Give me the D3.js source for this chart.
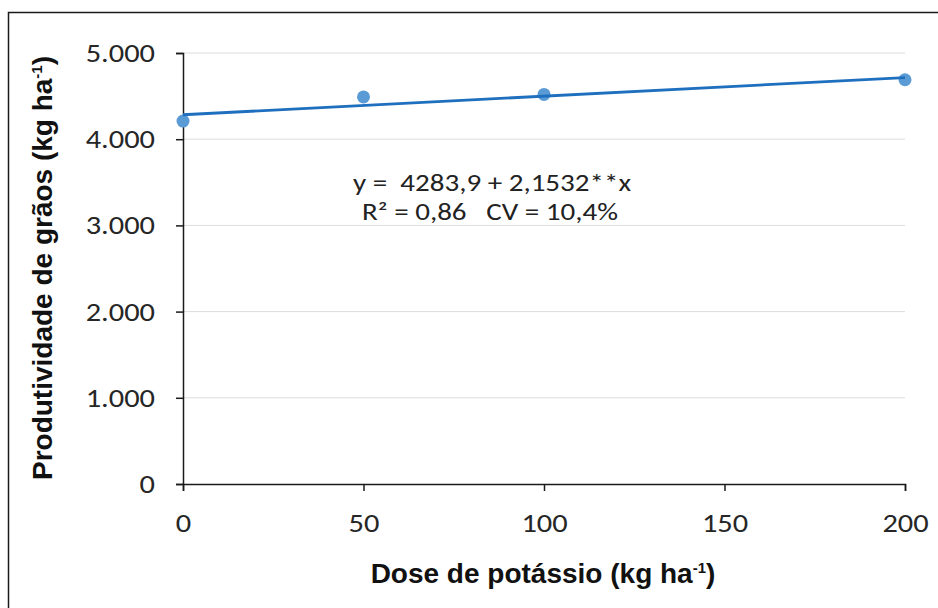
<!DOCTYPE html>
<html>
<head>
<meta charset="utf-8">
<script src="https://cdn.jsdelivr.net/npm/d3@7"></script>
<style>
    html, body { margin: 0; padding: 0; background: #fff; }
    svg { display: block; }
</style>
</head>
<body>
<div id="chart"></div>
<script>
// Doses of potassium (kg/ha) and grain yield
const doses = [0, 50, 100, 200];
const yields = [4210, 4490, 4520, 4690];

// Fitted line printed on the chart
const intercept = 4283.9;
const slope = 2.1532;

const xTicks = [0, 50, 100, 150, 200];
const yTicks = [0, 1000, 2000, 3000, 4000, 5000];
const yTickLabels = ["0", "1.000", "2.000", "3.000", "4.000", "5.000"];

const width = 938;
const height = 608;
const margin = { top: 53, right: 33, bottom: 124, left: 183 };

const numFont = "Carlito, Calibri, Lato, sans-serif";
const titleFont = "'Liberation Sans', Arial, sans-serif";
const stretch = 1.17; // the original text is a bit wider than Lato

const svg = d3.select("#chart").append("svg")
    .attr("width", width)
    .attr("height", height);

// outer frame (cut off on right and bottom like the original)
svg.append("rect")
    .attr("x", 8.5).attr("y", 12.5)
    .attr("width", 960).attr("height", 640)
    .attr("fill", "none")
    .attr("stroke", "#1a1a1a")
    .attr("stroke-width", 1.5);

const x = d3.scaleLinear()
    .domain([0, 200])
    .range([margin.left, width - margin.right]);

const y = d3.scaleLinear()
    .domain([0, 5000])
    .range([height - margin.bottom, margin.top]);

// gridlines
svg.append("g")
    .selectAll("line")
    .data(yTicks.filter(d => d > 0))
    .join("line")
    .attr("x1", x(0)).attr("x2", x(200))
    .attr("y1", d => y(d)).attr("y2", d => y(d))
    .attr("stroke", "#dcdcdc")
    .attr("stroke-width", 1);

// y axis
const yAxis = svg.append("g")
    .attr("transform", `translate(${x(0)},0)`)
    .call(d3.axisLeft(y)
        .tickValues(yTicks)
        .tickFormat((d, i) => yTickLabels[i])
        .tickSize(7));
yAxis.select(".domain").attr("stroke", "#1a1a1a").attr("stroke-width", 1.5);
yAxis.selectAll(".tick line").attr("stroke", "#1a1a1a").attr("stroke-width", 1.5);
yAxis.selectAll(".tick text")
    .attr("x", 0)
    .attr("dy", "0.33em")
    .attr("transform", `translate(-28,0) scale(${stretch},1)`)
    .attr("fill", "#262626")
    .style("font-family", numFont)
    .style("font-size", "26px");

// x axis
const xAxis = svg.append("g")
    .attr("transform", `translate(0,${y(0)})`)
    .call(d3.axisBottom(x)
        .tickValues(xTicks)
        .tickFormat(d3.format("d"))
        .tickSize(7));
xAxis.select(".domain").attr("stroke", "#1a1a1a").attr("stroke-width", 1.5);
xAxis.selectAll(".tick line").attr("stroke", "#1a1a1a").attr("stroke-width", 1.5);
xAxis.selectAll(".tick text")
    .attr("y", 0)
    .attr("dy", 0)
    .attr("transform", `translate(0,48) scale(${stretch},1)`)
    .attr("fill", "#262626")
    .style("font-family", numFont)
    .style("font-size", "26px");

// data points
svg.append("g")
    .selectAll("circle")
    .data(doses.map((d, i) => ({ dose: d, val: yields[i] })))
    .join("circle")
    .attr("cx", d => x(d.dose))
    .attr("cy", d => y(d.val))
    .attr("r", 6.5)
    .attr("fill", "#5b9bd5");

// linear trendline from the printed equation
const trend = [0, 200].map(d => [x(d), y(intercept + slope * d)]);
svg.append("path")
    .attr("d", d3.line()(trend))
    .attr("fill", "none")
    .attr("stroke", "#1f6fbf")
    .attr("stroke-width", 2.8);

// equation text
const eq = svg.append("g")
    .attr("text-anchor", "middle")
    .style("font-family", numFont)
    .style("font-size", "24px")
    .attr("fill", "#222");
eq.append("text")
    .attr("transform", "translate(492,191) scale(1.21,1)")
    .attr("xml:space", "preserve")
    .text("y =  4283,9 + 2,1532**x");
eq.append("text")
    .attr("transform", "translate(490,220) scale(1.21,1)")
    .attr("xml:space", "preserve")
    .text("R² = 0,86   CV = 10,4%");

// axis titles
const xTitle = svg.append("text")
    .attr("x", 543).attr("y", 583)
    .attr("text-anchor", "middle")
    .style("font-family", titleFont)
    .style("font-weight", "bold")
    .style("font-size", "28px")
    .attr("fill", "#111");
xTitle.append("tspan").text("Dose de potássio (kg ha");
xTitle.append("tspan").attr("dy", -10).style("font-size", "15px").text("-1");
xTitle.append("tspan").attr("dy", 10).text(")");

const yTitle = svg.append("text")
    .attr("transform", "translate(52,268) rotate(-90)")
    .attr("text-anchor", "middle")
    .style("font-family", titleFont)
    .style("font-weight", "bold")
    .style("font-size", "28px")
    .attr("fill", "#111");
yTitle.append("tspan").text("Produtividade de grãos (kg ha");
yTitle.append("tspan").attr("dy", -10).style("font-size", "15px").text("-1");
yTitle.append("tspan").attr("dy", 10).text(")");
</script>
</body>
</html>
